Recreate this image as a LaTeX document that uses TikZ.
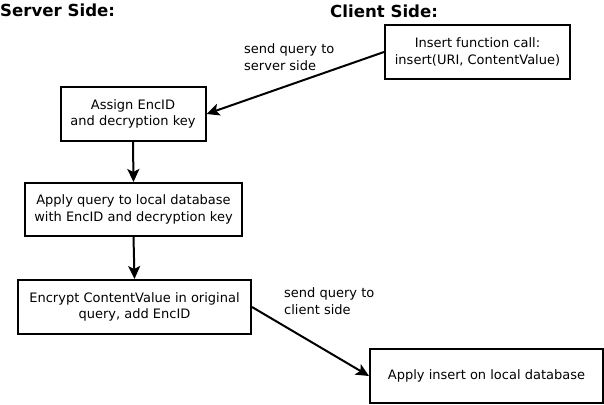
\documentclass[tikz,border=0pt]{standalone}
\usepackage{fontspec}
\setmainfont{DejaVu Sans}
\usetikzlibrary{arrows.meta}
\begin{document}
\begin{tikzpicture}[x=1pt,y=-1pt,
  box/.style={draw,line width=2pt,inner sep=0pt,align=center,font=\fontsize{13}{16.5}\selectfont},
  lbl/.style={inner sep=0pt,align=left,anchor=north west,font=\fontsize{13}{16.5}\selectfont},
  head/.style={inner sep=0pt,anchor=west,font=\fontsize{16.6}{18}\selectfont\bfseries},
  arr/.style={line width=2pt,-{Stealth[length=13pt,width=12pt,inset=3pt]}}]
\path[use as bounding box] (0,0) rectangle (604,404);
\node[head] (shead) at (0,10) {Server Side:};
\node[head] (chead) at (330,11) {Client Side:};
\node[box,minimum width=185pt,minimum height=54pt] (client) at (477.5,52) {Insert function call:\\insert(URI, ContentValue)};
\node[box,minimum width=145pt,minimum height=54pt] (assign) at (133,114) {Assign EncID\\and decryption key};
\node[box,minimum width=217pt,minimum height=53pt] (applyq) at (133.5,209.5) {Apply query to local database\\with EncID and decryption key};
\node[box,minimum width=233pt,minimum height=54pt] (encrypt) at (134.5,307) {Encrypt ContentValue in original\\query, add EncID};
\node[box,minimum width=233pt,minimum height=54pt] (applyins) at (486.5,376) {Apply insert on local database};
\node[lbl] (l1) at (244,43.5) {send query to\\server side};
\node[lbl] (l2) at (284,287.5) {send query to\\client side};
\draw[arr] (client.west) -- (assign.east);
\draw[arr] (assign.south) -- (applyq.north);
\draw[arr] (applyq.south) -- (encrypt.north);
\draw[arr] (encrypt.east) -- (applyins.west);
\end{tikzpicture}
\end{document}
